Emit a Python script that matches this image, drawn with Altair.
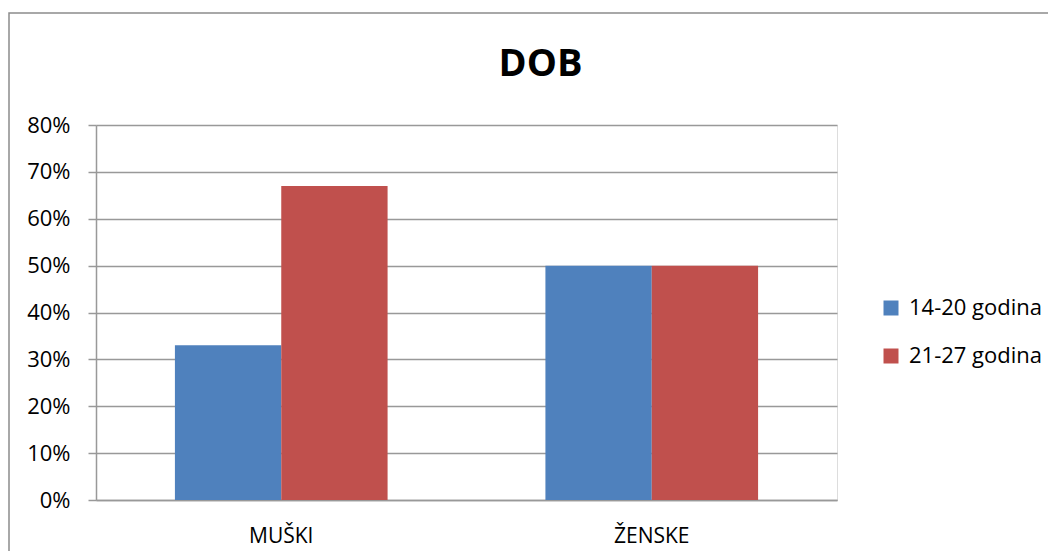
import altair as alt
import pandas as pd

categories = ["MUŠKI", "ŽENSKE"]
series = ["14-20 godina", "21-27 godina"]
values_14_20 = [0.33, 0.50]
values_21_27 = [0.67, 0.50]
colors = ["#4F81BD", "#C0504D"]
y_ticks = [0, 0.1, 0.2, 0.3, 0.4, 0.5, 0.6, 0.7, 0.8]

rows = []
for i, c in enumerate(categories):
    rows.append({"kategorija": c, "serija": series[0], "vrijednost": values_14_20[i]})
    rows.append({"kategorija": c, "serija": series[1], "vrijednost": values_21_27[i]})
df = pd.DataFrame(rows)

FONT = "Open Sans"
W, H = 741, 375

bars = alt.Chart(df).mark_bar().encode(
    x=alt.X("kategorija:N", sort=categories, title=None,
            scale=alt.Scale(paddingInner=0.426, paddingOuter=0.213),
            axis=alt.Axis(labelAngle=0, ticks=False, labelFontSize=21, labelFont=FONT,
                          labelColor="#000000", labelPadding=25, domainColor="#999999",
                          domainWidth=1.5, grid=False)),
    xOffset=alt.XOffset("serija:N", sort=series),
    y=alt.Y("vrijednost:Q", title=None,
            scale=alt.Scale(domain=[0, 0.8], nice=False),
            axis=alt.Axis(format=".0%", values=y_ticks, tickSize=8, tickColor="#999999",
                          tickWidth=1.5, labelFontSize=22, labelFont=FONT,
                          labelColor="#000000", labelPadding=18, domainColor="#999999",
                          domainWidth=1.5, grid=True, gridColor="#999999", gridWidth=1.5)),
    color=alt.Color("serija:N", sort=series,
                    scale=alt.Scale(domain=series, range=colors),
                    legend=alt.Legend(title=None, orient="none", legendX=784, legendY=172,
                                      symbolType="square", symbolSize=225,
                                      symbolStrokeWidth=0, labelFontSize=22, labelFont=FONT,
                                      labelColor="#000000", rowPadding=26, labelOffset=7,
                                      padding=0)),
)

border = alt.Chart(pd.DataFrame({"b": [1]})).mark_rect(
    fill=None, stroke="#8c8c8c", strokeWidth=1.5
).encode(
    x=alt.value(-87), x2=alt.value(W + 260),
    y=alt.value(-112), y2=alt.value(H + 100),
)

chart = alt.layer(border, bars).properties(
    width=W, height=H,
    title=alt.TitleParams(text="DOB", fontSize=38, fontWeight="bold", font=FONT,
                          color="#000000", anchor="middle", dx=74, offset=-102,
                          baseline="alphabetic"),
    autosize=alt.AutoSizeParams(type="none"),
    padding={"left": 88, "top": 117, "right": 211, "bottom": 51},
).configure_view(stroke=None).configure(background="#ffffff")

chart.save("out.html", embed_options={"renderer": "svg", "actions": False})
